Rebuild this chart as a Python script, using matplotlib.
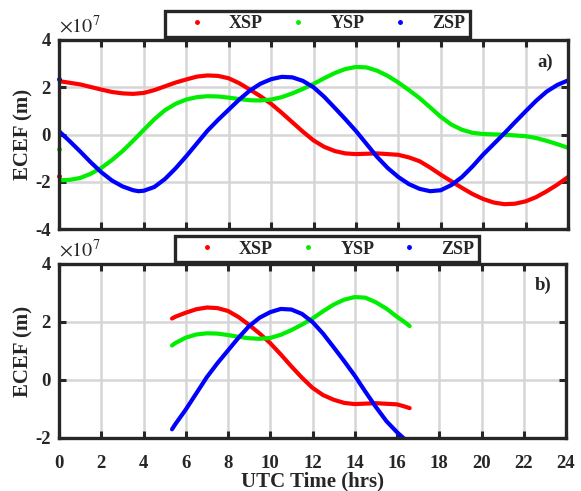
import matplotlib
matplotlib.use("Agg")
import matplotlib.pyplot as plt
from matplotlib.lines import Line2D

plt.rcParams['font.family'] = ['Liberation Serif', 'DejaVu Serif']
plt.rcParams['mathtext.fontset'] = 'stix'
plt.rcParams['axes.unicode_minus'] = False

# ---- data (units of 1e7 m) ----
# panel a
t_x_a = [0, 1, 2, 2.5, 3, 3.5, 4, 4.5, 5, 5.5, 6, 6.5, 7, 7.5, 8, 8.5, 9, 9.5, 10, 10.5, 11, 11.5, 12, 12.5,
         13, 13.5, 14, 15, 16, 16.5, 17, 17.5, 18, 18.5, 19, 19.5, 20, 20.5, 21, 21.5, 22, 22.5, 23, 23.5, 24]
xsp_a = [2.26, 2.12, 1.9, 1.8, 1.74, 1.72, 1.76, 1.88, 2.04, 2.2, 2.33, 2.45, 2.5, 2.48, 2.38, 2.17, 1.9, 1.62,
         1.3, 0.92, 0.52, 0.12, -0.25, -0.52, -0.7, -0.8, -0.83, -0.8, -0.86, -0.97, -1.13, -1.4, -1.7, -1.98,
         -2.26, -2.52, -2.73, -2.88, -2.95, -2.93, -2.83, -2.65, -2.4, -2.12, -1.8]
t_y_a = [0, 0.5, 1, 1.5, 2, 2.5, 3, 3.5, 4, 4.5, 5, 5.5, 6, 6.5, 7, 7.5, 8, 8.5, 9, 9.5, 10, 10.5, 11, 11.5, 12,
         12.5, 13, 13.5, 14, 14.5, 15, 15.5, 16, 16.5, 17, 17.5, 18, 18.5, 19, 19.5, 20, 21, 22, 22.5, 23, 23.5, 24]
ysp_a = [-1.94, -1.92, -1.84, -1.66, -1.41, -1.08, -0.7, -0.26, 0.2, 0.65, 1.03, 1.3, 1.48, 1.58, 1.62, 1.61,
         1.56, 1.5, 1.45, 1.44, 1.48, 1.58, 1.74, 1.93, 2.14, 2.38, 2.6, 2.77, 2.86, 2.84, 2.7, 2.48, 2.2, 1.88,
         1.54, 1.15, 0.75, 0.42, 0.2, 0.07, 0.02, -0.01, -0.07, -0.15, -0.27, -0.41, -0.56]
t_z_a = [0, 0.5, 1, 1.5, 2, 2.5, 3, 3.5, 3.75, 4, 4.5, 5, 5.5, 6, 6.5, 7, 7.5, 8, 8.5, 9, 9.5, 10, 10.5, 11,
         11.5, 12, 12.5, 13, 13.5, 14, 14.5, 15, 15.5, 16, 16.5, 17, 17.5, 18, 18.5, 19, 19.5, 20, 20.5, 21,
         21.5, 22, 22.5, 23, 23.5, 24]
zsp_a = [0.14, -0.28, -0.72, -1.18, -1.6, -1.95, -2.2, -2.36, -2.4, -2.38, -2.22, -1.88, -1.43, -0.92, -0.38,
         0.16, 0.62, 1.05, 1.48, 1.86, 2.15, 2.34, 2.44, 2.42, 2.27, 2.0, 1.6, 1.13, 0.65, 0.15, -0.4, -0.95,
         -1.42, -1.8, -2.1, -2.3, -2.4, -2.36, -2.14, -1.8, -1.35, -0.85, -0.4, 0.05, 0.52, 0.98, 1.43, 1.82,
         2.1, 2.29]
# wrapped end-of-day samples shown at t = 0
t_wrap = [0]
xsp_wrap = [-1.77]
ysp_wrap = [-0.6]
zsp_wrap = [2.33]

# panel b
t_x_b = [5.35, 5.5, 6, 6.5, 7, 7.5, 8, 8.5, 9, 9.5, 10, 10.5, 11, 11.5, 12, 12.5, 13, 13.5, 14, 15, 16, 16.3, 16.6]
xsp_b = [2.12, 2.18, 2.32, 2.44, 2.5, 2.48, 2.38, 2.17, 1.9, 1.6, 1.27, 0.88, 0.47, 0.08, -0.27, -0.52, -0.68,
         -0.79, -0.83, -0.8, -0.84, -0.9, -0.97]
t_y_b = [5.35, 5.5, 6, 6.5, 7, 7.5, 8, 8.5, 9, 9.5, 10, 10.5, 11, 11.5, 12, 12.5, 13, 13.5, 14, 14.5, 15, 15.5,
         16, 16.3, 16.6]
ysp_b = [1.19, 1.27, 1.46, 1.57, 1.61, 1.6, 1.55, 1.49, 1.44, 1.42, 1.45, 1.56, 1.72, 1.91, 2.12, 2.37, 2.6,
         2.77, 2.86, 2.84, 2.68, 2.46, 2.18, 2.03, 1.86]
t_z_b = [5.35, 5.5, 6, 6.5, 7, 7.5, 8, 8.5, 9, 9.5, 10, 10.5, 11, 11.5, 12, 12.5, 13, 13.5, 14, 14.5, 15, 15.5,
         16, 16.3, 16.6]
zsp_b = [-1.7, -1.53, -1.02, -0.46, 0.1, 0.58, 1.02, 1.46, 1.86, 2.15, 2.34, 2.45, 2.43, 2.28, 2.0, 1.6, 1.13,
         0.65, 0.15, -0.4, -0.93, -1.42, -1.8, -2.0, -2.15]

labels = ['XSP', 'YSP', 'ZSP']
colors = ['#ff0000', '#00ee00', '#0000ff']
xticks = list(range(0, 25, 2))
yticks_a = [-4, -2, 0, 2, 4]
yticks_b = [-2, 0, 2, 4]

W, H = 581, 491
fig = plt.figure(figsize=(W / 100, H / 100), dpi=100)

def fx(px):
    return px / W

def fy(py):
    return 1 - py / H

ax1 = fig.add_axes([fx(59), fy(229), fx(568 - 59), (229 - 40) / H])
ax2 = fig.add_axes([fx(59), fy(438), fx(566 - 59), (438 - 264) / H])

frame_col = '#262626'
lw = 3.0

def style(ax, yticks, ylim, show_xlabels):
    ax.set_xlim(0, 24)
    ax.set_ylim(*ylim)
    ax.set_xticks(xticks)
    ax.set_yticks(yticks)
    ax.grid(True, color='#d6d6d6', linewidth=1.8)
    ax.set_axisbelow(True)
    for s in ax.spines.values():
        s.set_linewidth(2.4)
        s.set_color(frame_col)
    ax.tick_params(direction='in', length=5, width=2.2, color=frame_col,
                   top=True, right=True, labelsize=13.5, labelcolor=frame_col)
    ax.tick_params(axis='y', pad=6)
    ax.tick_params(axis='x', pad=12)
    for lab in ax.get_xticklabels() + ax.get_yticklabels():
        lab.set_fontweight('bold')
    if not show_xlabels:
        ax.set_xticklabels([])
    ax.set_ylabel('ECEF (m)', fontsize=15, fontweight='bold', color=frame_col, labelpad=1)
    ax.text(0.0, 1.015, r'$\times10^{7}$', transform=ax.transAxes, fontsize=14.5,
            color=frame_col, ha='left', va='bottom')

# panel a
for t, v, c in [(t_x_a, xsp_a, colors[0]), (t_y_a, ysp_a, colors[1]), (t_z_a, zsp_a, colors[2])]:
    ax1.plot(t, v, color=c, lw=lw, solid_capstyle='round', solid_joinstyle='round')
for v, c in [(xsp_wrap, colors[0]), (ysp_wrap, colors[1]), (zsp_wrap, colors[2])]:
    ax1.plot(t_wrap, v, '.', color=c, ms=5, clip_on=False)
style(ax1, yticks_a, (-4, 4), False)
ax1.text(0.955, 0.88, 'a)', transform=ax1.transAxes, fontsize=13.5, fontweight='bold',
         color=frame_col, ha='center', va='center')

# panel b
for t, v, c in [(t_x_b, xsp_b, colors[0]), (t_y_b, ysp_b, colors[1]), (t_z_b, zsp_b, colors[2])]:
    ax2.plot(t, v, color=c, lw=lw, solid_capstyle='round', solid_joinstyle='round')
style(ax2, yticks_b, (-2, 4), True)
ax2.set_xlabel('UTC Time (hrs)', fontsize=15, fontweight='bold', color=frame_col, labelpad=0)
ax2.text(0.955, 0.88, 'b)', transform=ax2.transAxes, fontsize=13.5, fontweight='bold',
         color=frame_col, ha='center', va='center')

handles = [Line2D([], [], ls='none', marker='.', ms=5, color=c) for c in colors]

def add_legend(x0, x1, y0, y1):
    leg = fig.legend(handles, labels, ncol=3, mode='expand', loc='center',
                     bbox_to_anchor=(fx(x0), fy(y1), fx(x1 - x0), (y1 - y0) / H),
                     prop={'weight': 'bold', 'size': 13}, frameon=True, fancybox=False,
                     borderpad=0.25, handlelength=3.0, handletextpad=0.3, borderaxespad=0)
    fr = leg.get_frame()
    fr.set_edgecolor(frame_col)
    fr.set_linewidth(2.4)
    fr.set_facecolor('white')
    fr.set_alpha(1)
    for tx in leg.get_texts():
        tx.set_color(frame_col)
    return leg

add_legend(165, 470, 12, 36)
add_legend(175, 479, 236, 262)

fig.savefig('out.png', dpi=100)
